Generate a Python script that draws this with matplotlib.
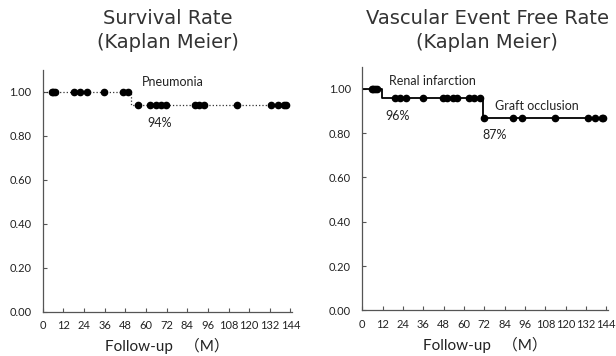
import numpy as np
import matplotlib
matplotlib.use("Agg")
import matplotlib.pyplot as plt

plt.rcParams['font.family'] = ['Lato', 'Noto Sans CJK JP', 'DejaVu Sans']

# survival (left)
surv_steps_t = [0, 51.6, 141.5]
surv_steps_y = [1.00, 0.94, 0.94]
surv_cens_t = [5.2, 6.0, 7.0, 18.2, 21.6, 25.5, 35.6, 46.4, 49.7,
               55.5, 62.6, 65.7, 68.6, 71.5, 88.7, 90.8, 93.7, 112.9,
               132.8, 136.7, 140.5, 141.5]

# vascular event free (right)
vasc_steps_t = [0, 11.4, 71.3, 142.0]
vasc_steps_y = [1.00, 0.96, 0.87, 0.87]
vasc_cens_t = [5.5, 6.5, 7.5, 8.5, 19.3, 22.2, 26.1, 36.0, 47.4, 50.3,
               53.3, 56.2, 63.1, 66.0, 69.4, 71.7, 89.0, 94.2, 113.6,
               133.2, 137.5, 141.4, 142.0]

xticks = list(range(0, 145, 12))
yticks = [0.0, 0.2, 0.4, 0.6, 0.8, 1.0]


def km_value(t, st, sy):
    idx = np.searchsorted(st, t, side='right') - 1
    return np.array(sy)[idx]


def style_ax(ax):
    ax.set_xlim(0, 145)
    ax.set_ylim(0, 1.1)
    ax.set_xticks(xticks)
    ax.set_yticks(yticks)
    ax.set_yticklabels(['%.2f' % v for v in yticks])
    for s in ['top', 'right']:
        ax.spines[s].set_visible(False)
    for s in ['left', 'bottom']:
        ax.spines[s].set_color('#555555')
        ax.spines[s].set_linewidth(0.9)
    ax.tick_params(axis='x', direction='in', length=3, labelsize=8, color='#555555',
                   pad=6, labelcolor='#222222')
    ax.tick_params(axis='y', direction='in', length=3, labelsize=8, color='#555555',
                   pad=8, labelcolor='#222222')
    ax.set_xlabel('Follow-up   （M）', fontsize=11, labelpad=5, color='#222222')


def title(fig, x, l1, l2):
    fig.text(x, 1 - 18 / 356, l1, ha='center', va='center', fontsize=14,
             family='DejaVu Sans', color='#333333')
    fig.text(x, 1 - 42 / 356, l2, ha='center', va='center', fontsize=14,
             family='DejaVu Sans', color='#333333')


fig = plt.figure(figsize=(6.16, 3.56), dpi=100)
ax1 = fig.add_axes([0.0693, 0.1236, 0.405, 0.68])
ax2 = fig.add_axes([0.588, 0.128, 0.399, 0.685])

ax1.plot(surv_steps_t, surv_steps_y, drawstyle='steps-post', color='#333333',
         linestyle=':', linewidth=0.9)
ax1.plot(surv_cens_t, km_value(surv_cens_t, surv_steps_t, surv_steps_y), 'o',
         color='black', markersize=4.5)
style_ax(ax1)
ax1.text(57.4, 1.047, 'Pneumonia', fontsize=9, va='center', color='#222222')
ax1.text(61, 0.859, '94%', fontsize=9, va='center', color='#222222')
title(fig, 167.5 / 616, 'Survival Rate', '(Kaplan Meier)')

ax2.plot(vasc_steps_t, vasc_steps_y, drawstyle='steps-post', color='black',
         linewidth=1.3)
ax2.plot(vasc_cens_t, km_value(vasc_cens_t, vasc_steps_t, vasc_steps_y), 'o',
         color='black', markersize=4.5)
style_ax(ax2)
ax2.text(15.7, 1.033, 'Renal infarction', fontsize=9, va='center', color='#222222')
ax2.text(13.4, 0.875, '96%', fontsize=9, va='center', color='#222222')
ax2.text(78.2, 0.92, 'Graft occlusion', fontsize=9, va='center', color='#222222')
ax2.text(71.1, 0.792, '87%', fontsize=9, va='center', color='#222222')
title(fig, 487 / 616, 'Vascular Event Free Rate', '(Kaplan Meier)')

fig.savefig('out.png', dpi=100)
